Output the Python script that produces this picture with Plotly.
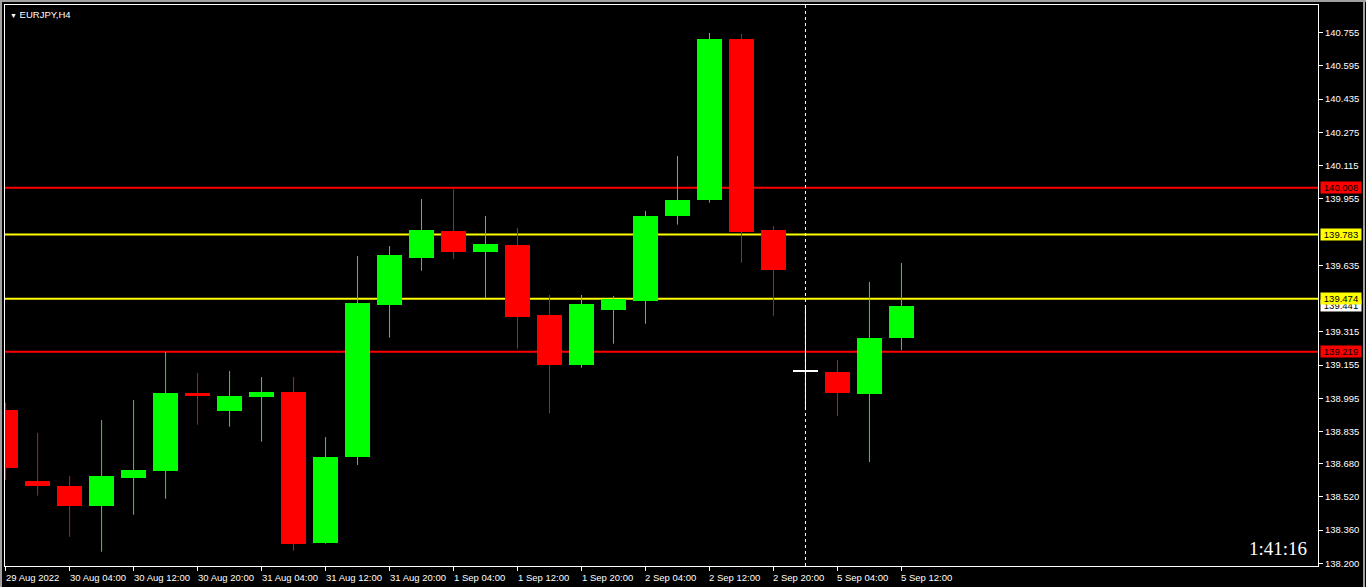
import plotly.graph_objects as go

# ---------------- data ----------------
symbol_label = "EURJPY,H4"
timer_text = "1:41:16"

opens  = [138.938, 138.597, 138.573, 138.478, 138.612, 138.646, 139.020, 138.935, 139.003, 139.025,
          138.300, 138.712, 139.444, 139.672, 139.800, 139.701, 139.733, 139.396, 139.157, 139.421,
          139.465, 139.874, 139.951, 140.725, 139.805, 139.125, 139.121, 139.017, 139.287]
highs  = [138.974, 138.828, 138.621, 138.890, 138.987, 139.218, 139.117, 139.126, 139.097, 139.097,
          138.808, 139.680, 139.728, 139.954, 140.002, 139.873, 139.815, 139.492, 139.492, 139.487,
          139.897, 140.161, 140.754, 140.749, 139.824, 139.444, 139.179, 139.555, 139.646]
lows   = [138.601, 138.526, 138.328, 138.256, 138.434, 138.511, 138.868, 138.858, 138.786, 138.261,
          138.295, 138.674, 139.287, 139.609, 139.665, 139.478, 139.234, 138.923, 139.142, 139.258,
          139.354, 139.831, 139.937, 139.648, 139.392, 138.938, 138.910, 138.688, 139.227]
closes = [138.661, 138.574, 138.478, 138.621, 138.650, 139.020, 139.007, 139.006, 139.025, 138.295,
          138.712, 139.454, 139.685, 139.805, 139.701, 139.738, 139.388, 139.157, 139.449, 139.473,
          139.873, 139.950, 140.725, 139.797, 139.614, 139.125, 139.022, 139.285, 139.441]

time_tick_index = [0, 2, 4, 6, 8, 10, 12, 14, 16, 18, 20, 22, 24, 26, 28]
time_tick_text = ["29 Aug 2022", "30 Aug 04:00", "30 Aug 12:00", "30 Aug 20:00", "31 Aug 04:00",
                  "31 Aug 12:00", "31 Aug 20:00", "1 Sep 04:00", "1 Sep 12:00", "1 Sep 20:00",
                  "2 Sep 04:00", "2 Sep 12:00", "2 Sep 20:00", "5 Sep 04:00", "5 Sep 12:00"]

price_ticks = [140.755, 140.595, 140.435, 140.275, 140.115, 139.955, 139.635, 139.315,
               139.155, 138.995, 138.835, 138.680, 138.520, 138.360, 138.200]

red_levels = [140.008, 139.219]
yellow_levels = [139.783, 139.474]
last_price = 139.441
separator_index = 25

# ---------------- styling ----------------
BULL = "#00FF00"
BEAR = "#FF0000"
DOJI = "#FFFFFF"
FONT = "Liberation Sans"
y_range = [138.1874, 140.8884]
x_range = [-0.019, 41.02]
one_px = (y_range[1] - y_range[0]) / 561.0

idx = list(range(len(opens)))
colors = []
bases = []
heights = []
for o, c in zip(opens, closes):
    if c > o:
        colors.append(BULL)
    elif c < o:
        colors.append(BEAR)
    else:
        colors.append(DOJI)
    lo, hi = min(o, c), max(o, c)
    if hi - lo < one_px:
        mid = (hi + lo) / 2
        lo, hi = mid - one_px / 2, mid + one_px / 2
    bases.append(lo)
    heights.append(hi - lo)

fig = go.Figure()

# wicks, one trace per colour
for col in (BULL, BEAR, DOJI):
    wx, wy = [], []
    for i in idx:
        if colors[i] == col:
            wx += [i, i, None]
            wy += [lows[i], highs[i], None]
    fig.add_trace(go.Scatter(x=wx, y=wy, mode="lines", line=dict(color=col, width=1),
                             hoverinfo="skip", showlegend=False))

# bodies
fig.add_trace(go.Bar(x=idx, y=heights, base=bases, width=0.78,
                     marker=dict(color=colors, line=dict(width=0)),
                     hoverinfo="skip", showlegend=False))

shapes = []
for lv in red_levels:
    shapes.append(dict(type="line", xref="paper", x0=0, x1=1, yref="y", y0=lv, y1=lv,
                       line=dict(color="#FF0000", width=2), layer="below"))
for lv in yellow_levels:
    shapes.append(dict(type="line", xref="paper", x0=0, x1=1, yref="y", y0=lv, y1=lv,
                       line=dict(color="#FFFF00", width=2), layer="below"))
shapes.append(dict(type="line", xref="x", x0=separator_index, x1=separator_index,
                   yref="paper", y0=0, y1=1,
                   line=dict(color="#FFFFFF", width=1, dash="3px,3px"), layer="below"))

# window border (gray)
def px_x(px):
    return (px - 5) / 1313.0

def px_y(py):
    return (566 - py) / 561.0

gray = "#A0A0A0"
shapes.append(dict(type="line", xref="paper", yref="paper", x0=px_x(1), x1=px_x(1),
                   y0=px_y(0), y1=px_y(587), line=dict(color=gray, width=2), layer="above"))
shapes.append(dict(type="line", xref="paper", yref="paper", x0=px_x(0), x1=px_x(1366),
                   y0=px_y(1), y1=px_y(1), line=dict(color=gray, width=2), layer="above"))
shapes.append(dict(type="line", xref="paper", yref="paper", x0=px_x(1364), x1=px_x(1364),
                   y0=px_y(0), y1=px_y(587), line=dict(color=gray, width=2), layer="above"))

annotations = []
# time labels, left-aligned at tick
for i, t in zip(time_tick_index, time_tick_text):
    annotations.append(dict(x=i, xref="x", y=0, yref="paper", text=t, showarrow=False,
                            xanchor="left", yanchor="top", xshift=-2, yshift=-4,
                            font=dict(family=FONT, size=9.5, color="#FFFFFF")))

# price boxes
def price_box(val, bg, fg):
    return dict(x=1, xref="paper", y=val, yref="y", text=f"{val:.3f}", showarrow=False,
                xanchor="left", yanchor="middle", xshift=2, bgcolor=bg, borderpad=0,
                width=40, height=11, align="center",
                font=dict(family=FONT, size=9.5, color=fg))

annotations.append(price_box(last_price, "#FFFFFF", "#000000"))
for lv in red_levels:
    annotations.append(price_box(lv, "#FF0000", "#000000"))
for lv in yellow_levels:
    annotations.append(price_box(lv, "#FFFF00", "#000000"))

# symbol label
annotations.append(dict(x=0, xref="paper", y=1, yref="paper",
                        text="<span style='font-size:7px'>▼</span> " + symbol_label,
                        showarrow=False, xanchor="left", yanchor="top", xshift=3, yshift=-2,
                        font=dict(family=FONT, size=9.5, color="#FFFFFF")))
# timer
annotations.append(dict(x=1, xref="paper", y=px_y(548), yref="paper", text=timer_text,
                        showarrow=False, xanchor="right", yanchor="middle", xshift=-9,
                        font=dict(family="Liberation Serif", size=19, color="#FFFFFF")))

fig.update_layout(
    width=1366, height=587,
    margin=dict(l=5, r=48, t=5, b=21, pad=0),
    paper_bgcolor="#000000", plot_bgcolor="#000000",
    showlegend=False, hovermode=False, bargap=0,
    shapes=shapes, annotations=annotations,
    xaxis=dict(range=x_range, showgrid=False, zeroline=False, showline=True, mirror=True,
               linecolor="#FFFFFF", linewidth=1, tickmode="array", tickvals=time_tick_index,
               ticks="outside", ticklen=4, tickcolor="#FFFFFF", showticklabels=False,
               fixedrange=True),
    yaxis=dict(range=y_range, side="right", showgrid=False, zeroline=False, showline=True,
               mirror=True, linecolor="#FFFFFF", linewidth=1, tickmode="array",
               tickvals=price_ticks, ticktext=[f"{v:.3f}" for v in price_ticks],
               ticks="outside", ticklen=4, tickcolor="#FFFFFF",
               tickfont=dict(family=FONT, size=9.5, color="#FFFFFF"), fixedrange=True),
)

fig.write_html(
    "out.html",
    config={"displayModeBar": False},
    post_script="document.body.style.margin='0';document.body.style.padding='0';"
                "document.body.style.background='#000';document.body.style.overflow='hidden';",
)
